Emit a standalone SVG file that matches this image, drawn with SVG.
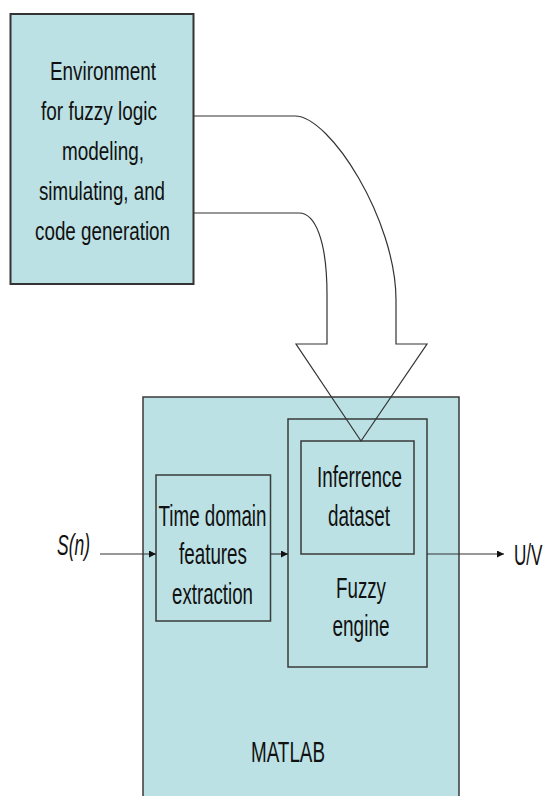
<svg xmlns="http://www.w3.org/2000/svg" width="548" height="796" viewBox="0 0 548 796">
  <defs>
    <style>
      .box { fill: #BCE1E4; stroke: #3a3a3a; stroke-width: 1.5; }
      .env { fill: #BCE1E4; stroke: #333; stroke-width: 2; }
      .line { fill: none; stroke: #333; stroke-width: 1.2; }
      .t { font-family: "Liberation Sans", Arial, sans-serif; fill: #111; text-anchor: middle; }
      .top { font-size: 26px; }
      .big { font-size: 30px; }
    </style>
    <marker id="arrow" viewBox="0 0 10 10" refX="10" refY="5" markerWidth="7" markerHeight="7" markerUnits="userSpaceOnUse" orient="auto">
      <path d="M0,0 L10,5 L0,10 z" fill="#111"/>
    </marker>
  </defs>

  <rect width="548" height="796" fill="#fff"/>

  <!-- MATLAB container -->
  <g id="matlab">
    <rect class="box" x="143" y="397" width="316" height="420"/>
    <text class="t big" x="288" y="762" textLength="74" lengthAdjust="spacingAndGlyphs">MATLAB</text>
  </g>

  <!-- Fuzzy engine -->
  <g id="fuzzy-engine">
    <rect class="box" x="288" y="419" width="139" height="248"/>
    <text class="t big" x="361" y="598" textLength="50" lengthAdjust="spacingAndGlyphs">Fuzzy</text>
    <text class="t big" x="361" y="636" textLength="57" lengthAdjust="spacingAndGlyphs">engine</text>
  </g>

  <!-- Inference dataset -->
  <g id="inference-dataset">
    <rect class="box" x="301" y="441" width="113" height="113"/>
    <text class="t big" x="359.5" y="487" textLength="85" lengthAdjust="spacingAndGlyphs">Inferrence</text>
    <text class="t big" x="359" y="526" textLength="62" lengthAdjust="spacingAndGlyphs">dataset</text>
  </g>

  <!-- Feature extraction -->
  <g id="feature-extraction">
    <rect class="box" x="156" y="475" width="114.5" height="146"/>
    <text class="t big" x="212.5" y="526" textLength="108" lengthAdjust="spacingAndGlyphs">Time domain</text>
    <text class="t big" x="213" y="564" textLength="68" lengthAdjust="spacingAndGlyphs">features</text>
    <text class="t big" x="212.5" y="604" textLength="81" lengthAdjust="spacingAndGlyphs">extraction</text>
  </g>

  <!-- Fuzzy logic environment -->
  <g id="environment">
    <rect class="env" x="10.5" y="14" width="183" height="270"/>
    <text class="t top" x="103" y="80" textLength="106" lengthAdjust="spacingAndGlyphs">Environment</text>
    <text class="t top" x="99" y="120" textLength="116" lengthAdjust="spacingAndGlyphs">for fuzzy logic</text>
    <text class="t top" x="103" y="160" textLength="82" lengthAdjust="spacingAndGlyphs">modeling,</text>
    <text class="t top" x="102" y="200" textLength="126" lengthAdjust="spacingAndGlyphs">simulating, and</text>
    <text class="t top" x="102.5" y="240" textLength="135" lengthAdjust="spacingAndGlyphs">code generation</text>
  </g>

  <!-- Signal labels -->
  <g id="input-label">
    <text class="t big" x="73.5" y="555" font-style="italic" textLength="33" lengthAdjust="spacingAndGlyphs">S(n)</text>
  </g>
  <g id="output-label">
    <!-- narrowed with a horizontal scale so the label stays inside the frame -->
    <text class="t big" transform="translate(514 565) scale(0.57 1)" x="0" y="0" style="text-anchor:start">U/V</text>
  </g>

  <!-- Connectors -->
  <g id="connectors">
    <!-- block arrow from the environment into the inference dataset -->
    <path class="line" d="M193.5,116 L295,116 C330,116 396,220 396,300 L396,344 L427,344 L361,441 L296,344 L327,344 L327,295 C327,240 315,213 299,213 L193.5,213"/>
    <line class="line" x1="100" y1="554" x2="156" y2="554" marker-end="url(#arrow)"/>
    <line class="line" x1="270.5" y1="554" x2="288" y2="554" marker-end="url(#arrow)"/>
    <line class="line" x1="427" y1="554" x2="504" y2="554" marker-end="url(#arrow)"/>
  </g>
</svg>
